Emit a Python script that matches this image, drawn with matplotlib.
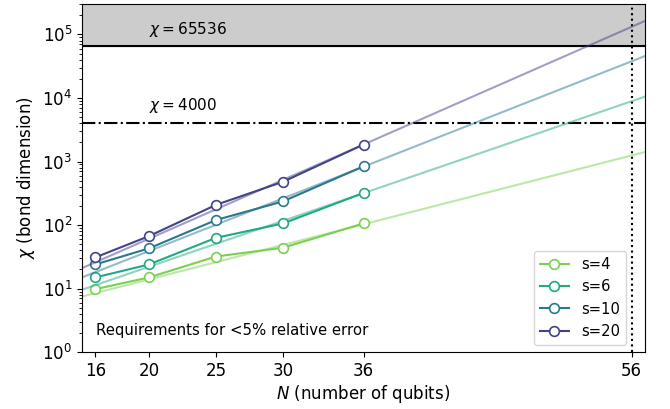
import matplotlib
matplotlib.use("Agg")
import matplotlib.pyplot as plt
import numpy as np

# qubit counts and required bond dimension for each s
N = [16, 20, 25, 30, 36]
chi_s4 = [9.8, 15, 32, 44, 106]
chi_s6 = [15, 24, 63, 106, 320]
chi_s10 = [24, 43, 120, 236, 840]
chi_s20 = [31, 67, 208, 480, 1850]

# exponential fit lines, value at the left and right plot edges
fit_N = [15, 57]
fit_s4 = [7.5, 1410]
fit_s6 = [9.6, 10500]
fit_s10 = [15, 45700]
fit_s20 = [21, 163000]

labels = ["s=4", "s=6", "s=10", "s=20"]
colors = ["#7ad151", "#22a884", "#2a788e", "#414487"]
xticks = [16, 20, 25, 30, 36, 56]

chi_max = 65536
chi_run = 4000

fig = plt.figure(figsize=(6.7, 4.09), dpi=100)
ax = fig.add_axes([0.1224, 0.139, 0.8403, 0.851])

ax.axhspan(chi_max, 3e5, color="#cccccc", zorder=0)
ax.axhline(chi_max, color="black", lw=1.5)
ax.axhline(chi_run, color="black", lw=1.5, ls="-.")
ax.axvline(56, color="black", lw=1.5, ls=":")

data = [chi_s4, chi_s6, chi_s10, chi_s20]
fits = [fit_s4, fit_s6, fit_s10, fit_s20]
for d, f, c, lab in zip(data, fits, colors, labels):
    ax.plot(fit_N, f, color=c, alpha=0.5, lw=1.5)
    ax.plot(N, d, color=c, lw=1.5, marker="o", ms=7, mfc="white",
            mec=c, mew=1.2, label=lab)

ax.text(20, 1.2e5, r"$\chi = 65536$", fontsize=11, va="center")
ax.text(20, 7600, r"$\chi = 4000$", fontsize=11, va="center")
ax.text(16.05, 2.2, "Requirements for <5% relative error", fontsize=10.7,
        va="center")

ax.set_yscale("log")
ax.set_ylim(1, 3e5)
ax.set_xlim(15, 57)
ax.set_xticks(xticks)
ax.tick_params(labelsize=12)
ax.set_xlabel(r"$N$ (number of qubits)", fontsize=12, labelpad=2)
ax.set_ylabel(r"$\chi$ (bond dimension)", fontsize=12)
ax.legend(loc="lower right", bbox_to_anchor=(0.979, 0), fontsize=10.6)

fig.savefig("out.png", dpi=100)
